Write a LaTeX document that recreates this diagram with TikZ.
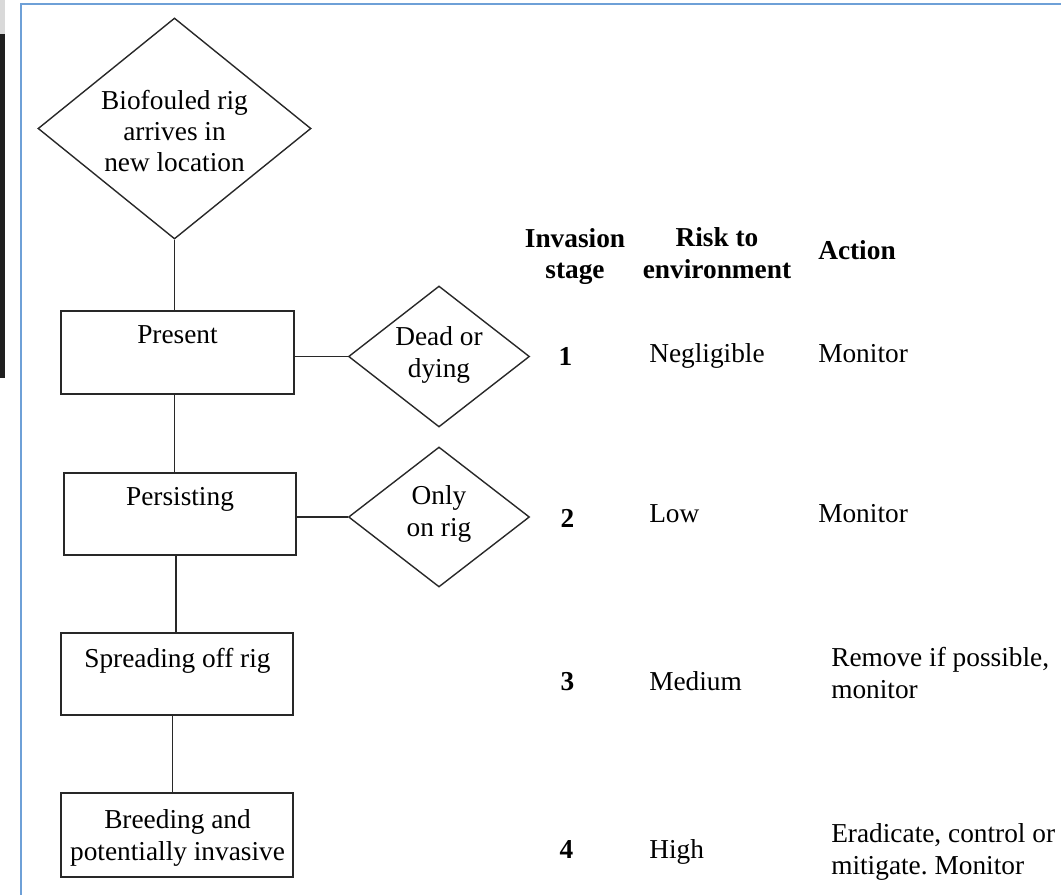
\documentclass[tikz,border=0pt]{standalone}
\usepackage{fontspec}
\setmainfont{Liberation Serif}
\usetikzlibrary{shapes.geometric}
\frenchspacing
\definecolor{frameblue}{RGB}{110,160,215}
\definecolor{linegray}{RGB}{40,40,40}
\tikzset{
  conn/.style={draw=linegray, line width=1.05pt},
  stagebox/.style={draw=linegray, line width=1.05pt, rectangle, inner sep=0pt, minimum width=174pt},
  decision/.style={draw=linegray, line width=1.05pt, diamond, inner sep=0pt},
  txt/.style={inner sep=0pt, font=\fontsize{20.5}{23.6}\selectfont},
  head/.style={txt, font=\fontsize{20.5}{23.6}\selectfont\bfseries},
}
\begin{document}
\begin{tikzpicture}[x=0.75pt,y=-0.75pt]
\useasboundingbox (0,0) rectangle (1061,895);
% screenshot frame
\fill[black!15] (0,0) rectangle (4.5,34);
\fill[black!88] (0,34) rectangle (4.5,378);
\draw[frameblue, line width=1.5pt] (20.8,895) -- (20.8,3.8) -- (1061,3.8);

% flow nodes
\node[decision, minimum width=204.75pt, minimum height=165.75pt] (arrive) at (174.5,128.5) {};
\node[txt, align=center] (arrive-t) at (174.5,131) {Biofouled rig\\arrives in\\new location};

\node[stagebox, minimum width=174.75pt, minimum height=62.25pt] (present) at (177.5,352.5) {};
\node[txt, anchor=base] (present-t) at (177.5,344) {Present};

\node[stagebox, minimum height=61.5pt] (persist) at (180,514) {};
\node[txt, anchor=base] (persist-t) at (180,505) {Persisting};

\node[stagebox, minimum height=61.5pt] (spread) at (177,674) {};
\node[txt, anchor=base] (spread-t) at (177.5,667) {Spreading off rig};

\node[stagebox, minimum height=63pt] (breed) at (177,835) {};
\node[txt, align=center] (breed-t) at (177.5,838) {Breeding and\\potentially invasive};

\node[decision, minimum width=135.75pt, minimum height=105.75pt] (dead) at (439,356.5) {};
\node[txt, align=center] (dead-t) at (439,355) {Dead or\\dying};

\node[decision, minimum width=135.75pt, minimum height=105pt] (only) at (439,517) {};
\node[txt, align=center] (only-t) at (439,514) {Only\\on rig};

% connectors
\coordinate (c1) at (176,0);
\coordinate (c2) at (172.5,0);
\draw[conn] (arrive.south) -- (arrive.south |- present.north);
\draw[conn] (arrive.south |- present.south) -- (arrive.south |- persist.north);
\draw[conn] (c1 |- persist.south) -- (c1 |- spread.north);
\draw[conn] (c2 |- spread.south) -- (c2 |- breed.north);
\draw[conn] (dead.west -| present.east) -- (dead.west);
\draw[conn] (only.west -| persist.east) -- (only.west);

% table
\node[head, align=center] (h-stage) at (575,256.5) {Invasion\\stage};
\node[head, align=center] (h-risk) at (717,253) {Risk to\\environment};
\node[head, anchor=base west] (h-action) at (818,260) {Action};

\node[head, anchor=base] (s1) at (565.5,365) {1};
\node[txt, anchor=base west] (r1) at (649,362) {Negligible};
\node[txt, anchor=base west] (a1) at (818,362) {Monitor};

\node[head, anchor=base] (s2) at (567.5,527) {2};
\node[txt, anchor=base west] (r2) at (649,522) {Low};
\node[txt, anchor=base west] (a2) at (818,522) {Monitor};

\node[head, anchor=base] (s3) at (567.5,690) {3};
\node[txt, anchor=base west] (r3) at (649,690) {Medium};
\node[txt, align=left, anchor=west] (a3) at (831,673) {Remove if possible,\\monitor};

\node[head, anchor=base] (s4) at (566.5,858) {4};
\node[txt, anchor=base west] (r4) at (649,858) {High};
\node[txt, align=left, anchor=west] (a4) at (831,852) {Eradicate, control or\\mitigate. Monitor};
\end{tikzpicture}
\end{document}
